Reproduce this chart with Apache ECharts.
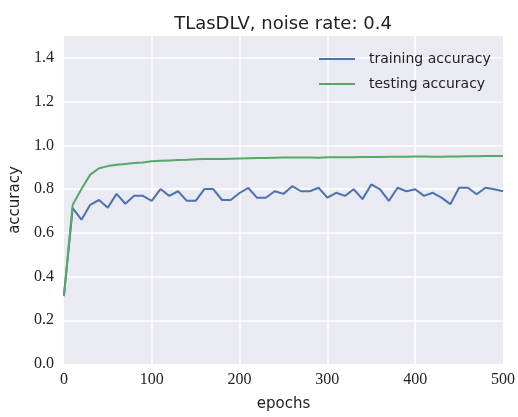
<!DOCTYPE html>
<html>
<head>
<meta charset="utf-8">
<script src="https://cdn.jsdelivr.net/npm/echarts@6/dist/echarts.min.js"></script>
<style>
  html, body { margin: 0; padding: 0; background: #fff; }
  #chart { width: 518px; height: 417px; }
</style>
</head>
<body>
<div id="chart"></div>
<script>
// epochs (x) and the two accuracy curves
var epochs = [0, 10, 20, 30, 40, 50, 60, 70, 80, 90,
  100, 110, 120, 130, 140, 150, 160, 170, 180, 190,
  200, 210, 220, 230, 240, 250, 260, 270, 280, 290,
  300, 310, 320, 330, 340, 350, 360, 370, 380, 390,
  400, 410, 420, 430, 440, 450, 460, 470, 480, 490, 500];

var trainAcc = [0.31, 0.713, 0.66, 0.728, 0.75, 0.715, 0.778, 0.733, 0.769, 0.769,
  0.746, 0.80, 0.769, 0.79, 0.746, 0.746, 0.80, 0.80, 0.75, 0.75,
  0.782, 0.805, 0.76, 0.76, 0.79, 0.778, 0.813, 0.79, 0.79, 0.806,
  0.761, 0.783, 0.769, 0.799, 0.754, 0.821, 0.799, 0.746, 0.806, 0.79,
  0.799, 0.769, 0.783, 0.761, 0.731, 0.806, 0.806, 0.776, 0.806, 0.799, 0.79];

var testAcc = [0.31, 0.728, 0.80, 0.866, 0.895, 0.905, 0.911, 0.915, 0.919, 0.922,
  0.927, 0.929, 0.931, 0.933, 0.934, 0.936, 0.937, 0.937, 0.938, 0.939,
  0.940, 0.941, 0.942, 0.942, 0.943, 0.944, 0.944, 0.944, 0.944, 0.943,
  0.945, 0.946, 0.946, 0.946, 0.947, 0.947, 0.947, 0.948, 0.948, 0.948,
  0.949, 0.949, 0.948, 0.948, 0.949, 0.949, 0.950, 0.950, 0.951, 0.951, 0.951];

const BLUE = '#4C72B0';
const GREEN = '#55A868';
const SANS = '"DejaVu Sans", "Open Sans", sans-serif';
const SERIF = '"Liberation Serif", "DejaVu Serif", serif';

function pairs(xs, ys) {
  var out = [];
  for (var i = 0; i < xs.length; i++) {
    out.push([xs[i], ys[i]]);
  }
  return out;
}

var chart = echarts.init(document.getElementById('chart'), null, { renderer: 'canvas' });

var option = {
  animation: false,
  title: {
    text: 'TLasDLV, noise rate: 0.4',
    left: 283,
    top: 15,
    textAlign: 'center',
    padding: 0,
    textStyle: {
      fontFamily: SANS,
      fontWeight: 'normal',
      fontSize: 18,
      color: '#222'
    }
  },
  legend: {
    orient: 'vertical',
    left: 319,
    top: 52,
    icon: 'rect',
    itemWidth: 36,
    itemHeight: 2,
    itemGap: 11,
    padding: 0,
    textStyle: {
      fontFamily: SANS,
      fontSize: 14,
      color: '#222',
      padding: [0, 0, 0, 9]
    },
    data: ['training accuracy', 'testing accuracy']
  },
  grid: {
    left: 61,
    right: 13,
    top: 36,
    bottom: 50,
    show: true,
    backgroundColor: '#EAEAF2',
    borderWidth: 0
  },
  xAxis: {
    type: 'value',
    min: 0,
    max: 500,
    interval: 100,
    name: 'epochs',
    nameLocation: 'middle',
    nameGap: 33,
    nameTextStyle: { fontFamily: SANS, fontSize: 15, color: '#222' },
    axisLine: { show: false },
    axisTick: { show: false },
    axisLabel: { fontFamily: SERIF, fontSize: 16, color: '#222', margin: 8 },
    splitLine: {
      show: true,
      showMinLine: false,
      showMaxLine: false,
      lineStyle: { color: '#fff', width: 1.5 }
    }
  },
  yAxis: {
    type: 'value',
    min: 0,
    max: 1.5,
    interval: 0.2,
    name: 'accuracy',
    nameLocation: 'middle',
    nameGap: 37,
    nameTextStyle: { fontFamily: SANS, fontSize: 15, color: '#222' },
    axisLine: { show: false },
    axisTick: { show: false },
    axisLabel: {
      fontFamily: SERIF,
      fontSize: 16,
      color: '#222',
      margin: 10,
      showMaxLabel: false,
      formatter: function (v) { return v.toFixed(1); }
    },
    splitLine: {
      show: true,
      showMinLine: false,
      showMaxLine: false,
      lineStyle: { color: '#fff', width: 1.5 }
    }
  },
  series: [
    {
      name: 'training accuracy',
      type: 'line',
      symbol: 'none',
      data: pairs(epochs, trainAcc),
      lineStyle: { color: BLUE, width: 2 },
      itemStyle: { color: BLUE }
    },
    {
      name: 'testing accuracy',
      type: 'line',
      symbol: 'none',
      data: pairs(epochs, testAcc),
      lineStyle: { color: GREEN, width: 2 },
      itemStyle: { color: GREEN }
    }
  ]
};

chart.setOption(option);
</script>
</body>
</html>
